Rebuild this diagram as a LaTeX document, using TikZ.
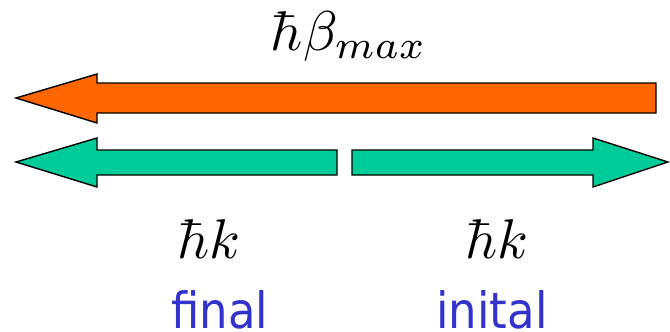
\documentclass[tikz,border=0pt]{standalone}
\usepackage{graphicx}
\usepackage{fontspec}
\newfontfamily\labelfont{DejaVu Sans Condensed}
\definecolor{arrorange}{RGB}{255,102,0}
\definecolor{arrgreen}{RGB}{0,204,153}
\definecolor{labelblue}{RGB}{51,51,204}
\newcommand{\bigmath}[1]{\scalebox{5.6}{$#1$}}
\begin{document}
\begin{tikzpicture}[x=1pt,y=-1pt,
  arrowshape/.style={draw=black,line width=1.4pt,line join=miter},
  mathlabel/.style={anchor=base,inner sep=0pt},
  wordlabel/.style={anchor=base,inner sep=0pt,text depth=0pt,text=labelblue,font=\labelfont\fontsize{50}{58}\selectfont}]
\useasboundingbox (0,0) rectangle (670,332);
% orange arrow (pointing left)
\filldraw[arrowshape,fill=arrorange] (16,98) -- (97,74) -- (97,83) -- (656,83) -- (656,113) -- (97,113) -- (97,123) -- cycle;
% green arrow, left part
\filldraw[arrowshape,fill=arrgreen] (16,162) -- (97,138) -- (97,150) -- (337,150) -- (337,175) -- (97,175) -- (97,187) -- cycle;
% green arrow, right part
\filldraw[arrowshape,fill=arrgreen] (352,150) -- (593,150) -- (593,138) -- (668,162) -- (593,187) -- (593,175) -- (352,175) -- cycle;
\node[mathlabel] (bmax) at (349,50) {\bigmath{\hbar\beta_{max}}};
\node[mathlabel] (hkl) at (209,258) {\bigmath{\hbar k}};
\node[mathlabel] (hkr) at (497,258) {\bigmath{\hbar k}};
\node[wordlabel] (fin) at (220,328) {final};
\node[wordlabel] (ini) at (492,328) {inital};
\end{tikzpicture}
\end{document}
